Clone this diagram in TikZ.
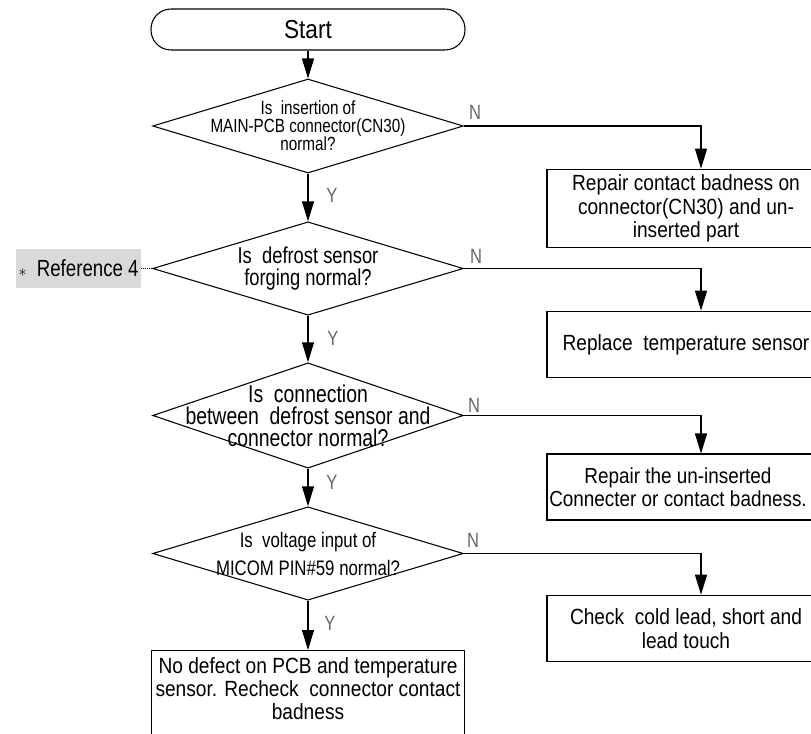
\documentclass[tikz,border=0pt]{standalone}
\usepackage{fontspec}
\setmainfont{Liberation Sans}[FakeStretch=0.87]
\newfontfamily\narrowfont{Liberation Sans}[FakeStretch=0.8]
\usetikzlibrary{shapes.geometric,arrows.meta,positioning}

\newcommand{\qsize}[2]{\narrowfont\fontsize{#1}{#2}\selectfont}

\begin{document}
\begin{tikzpicture}[x=0.75pt, y=-0.75pt,
    startbox/.style={draw, line width=0.8pt, rounded corners=15pt, minimum width=235.5pt, minimum height=30.75pt, font=\fontsize{19.5}{20}\selectfont},
    ask/.style={draw, diamond, line width=0.8pt, inner sep=0pt, minimum width=233pt, minimum height=#1},
    qtext/.style={align=center, inner sep=0pt},
    fixbox/.style={draw, line width=0.8pt, align=center, minimum width=208.5pt, minimum height=#1, inner sep=3pt, font=\fontsize{16.5}{17.5}\selectfont},
    yn/.style={text=black!60, inner sep=0pt, font=\qsize{15.5}{16}},
    refbox/.style={fill=black!15, minimum width=94pt, minimum height=29pt, inner sep=0pt, font=\qsize{17.5}{18}},
    arr/.style={-{Triangle[length=15pt,width=9pt]}, line width=0.8pt}
  ]
    \useasboundingbox (0,0) rectangle (811,733);

    % main column
    \node[startbox] (start) at (308,29.5) {Start};
    \node[ask=70.5pt, label={[qtext, font=\qsize{14.3}{13.5}]center:{Is\ \ insertion of\\MAIN-PCB connector(CN30)\\normal?}}] (d1) at (308,126) {};
    \node[ask=70pt, label={[qtext, font=\qsize{17.2}{16}]center:{Is\ \ defrost sensor\\forging normal?}}] (d2) at (308,268.5) {};
    \node[ask=79pt, label={[qtext, font=\qsize{18.2}{16.5}]center:{Is\ \ connection\\between\ \ defrost sensor and\\connector normal?}}] (d3) at (308,415.5) {};
    \node[ask=70pt, label={[qtext, font=\qsize{15.75}{21}]center:{Is\ \ voltage input of\\MICOM PIN\#59 normal?}}] (d4) at (308,553.5) {};
    \node[fixbox=0pt, minimum width=235pt, anchor=north, inner ysep=5pt] (done) at (308,650) {No defect on PCB and temperature\\sensor. Recheck\ \ connector contact\\badness\\\strut};

    % reference note
    \node[refbox, left=8pt of d2] (ref) {{\fontsize{13}{13}\selectfont$\ast$}\ \ Reference 4};
    \draw[densely dotted, line width=0.5pt] (ref) -- (d2);

    % repair boxes
    \coordinate (nx) at (701,0);
    \node[fixbox=59pt] (b1) at (686,208.5) {Repair contact badness on\\connector(CN30) and un-\\inserted part};
    \node[fixbox=50pt] (b2) at (686,344.5) {Replace\ \ temperature sensor};
    \node[fixbox=49.5pt, label={[qtext, xshift=-6pt, font=\fontsize{16.3}{17.5}\selectfont]center:{Repair the un-inserted\\Connecter or contact badness.}}] (b3) at (686,487) {};
    \node[fixbox=50pt] (b4) at (686,628.5) {Check\ \ cold lead, short and\\lead touch};

    % yes / no
    \draw[arr] (start) -- (d1);
    \draw[arr] (d1) -- (d2);
    \draw[arr] (d2) -- (d3);
    \draw[arr] (d3) -- (d4);
    \draw[arr] (d4) -- (done);
    \draw[arr] (d1.east) -| (b1.north -| nx);
    \draw[arr] (d2.east) -| (b2.north -| nx);
    \draw[arr] (d3.east) -| (b3.north -| nx);
    \draw[arr] (d4.east) -| (b4.north -| nx);

    \node[yn] (y1) at (332,195) {Y};
    \node[yn] (y2) at (333,338) {Y};
    \node[yn] (y3) at (332,482) {Y};
    \node[yn] (y4) at (330,623) {Y};
    \node[yn] (n1) at (475,112) {N};
    \node[yn] (n2) at (476,256) {N};
    \node[yn] (n3) at (474,405) {N};
    \node[yn] (n4) at (473,540) {N};
\end{tikzpicture}
\end{document}
